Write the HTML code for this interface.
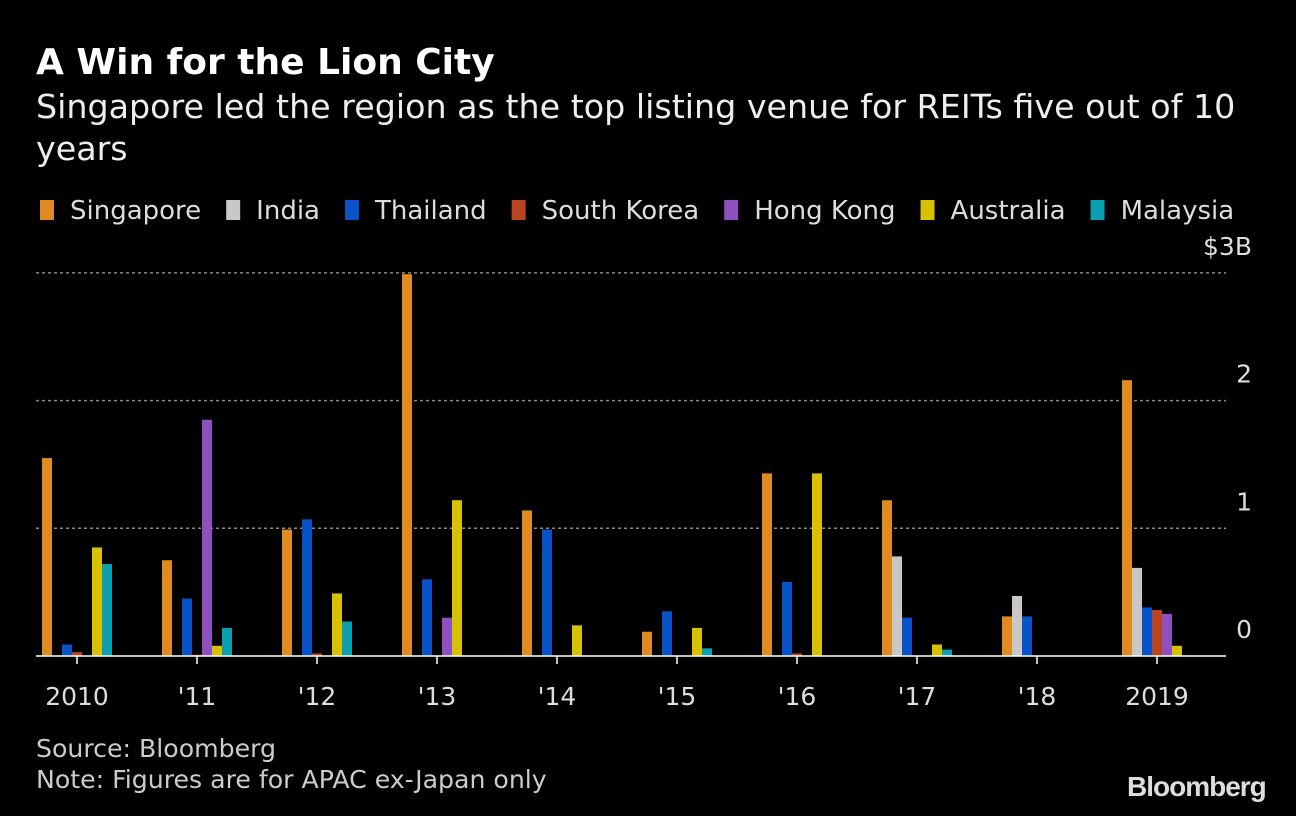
<!DOCTYPE html>
<html><head><meta charset="utf-8"><style>
body{margin:0;background:#000;width:1296px;height:816px;overflow:hidden;font-family:"DejaVu Sans","Liberation Sans",sans-serif;color:#fff}
#t{position:absolute;left:36px;top:42px;font-size:36px;font-weight:bold;line-height:42px}
#s{position:absolute;left:36px;top:86px;font-size:33.3px;line-height:42px;width:1230px;color:#eee}
#n{position:absolute;left:36px;top:733px;font-size:25.2px;line-height:31px;color:#ccc}
#b{position:absolute;left:1127px;top:771px;font-size:28px;font-weight:bold;color:#ddd;letter-spacing:-1px;font-family:"Liberation Sans",sans-serif}
svg{position:absolute;left:0;top:0}
</style></head><body>
<div id="t">A Win for the Lion City</div>
<div id="s">Singapore led the region as the top listing venue for REITs five out of 10 years</div>
<svg id="c" width="1296" height="816"></svg>
<div id="n">Source: Bloomberg<br>Note: Figures are for APAC ex-Japan only</div>
<div id="b">Bloomberg</div>
<script>
const years=["2010","'11","'12","'13","'14","'15","'16","'17","'18","2019"];
const seriesNames=["Singapore","India","Thailand","South Korea","Hong Kong","Australia","Malaysia"];
const colors=["#e08a22","#c8c8c8","#0a52c8","#b9441f","#8e4fbf","#d8c200","#0aa0b0"];
const singapore=[1.55,0.75,0.99,2.99,1.14,0.19,1.43,1.22,0.31,2.16];
const india=[0,0,0,0,0,0,0,0.78,0.47,0.69];
const thailand=[0.09,0.45,1.07,0.6,0.99,0.35,0.58,0.3,0.31,0.38];
const southKorea=[0.03,0.01,0.02,0,0,0,0.02,0,0,0.36];
const hongKong=[0,1.85,0,0.3,0,0,0,0,0,0.33];
const australia=[0.85,0.08,0.49,1.22,0.24,0.22,1.43,0.09,0,0.08];
const malaysia=[0.72,0.22,0.27,0,0,0.06,0,0.05,0,0];
const ticks=[0,1,2,3];
const tickLabels=["0","1","2","$3B"];
const series=[singapore,india,thailand,southKorea,hongKong,australia,malaysia];
const ns="http://www.w3.org/2000/svg",svg=document.getElementById('c');
const FF='DejaVu Sans, Liberation Sans, sans-serif';
const y=v=>656-v*127.7, gx=i=>42+i*120;
function mk(t,a,txt){const e=document.createElementNS(ns,t);for(const k in a)e.setAttribute(k,a[k]);if(txt!=null)e.textContent=txt;svg.appendChild(e);return e;}
ticks.forEach((t,i)=>{
 if(t>0){const l=mk('line',{x1:36,x2:1226,y1:y(t),y2:y(t),stroke:'#888','stroke-dasharray':'3,3','stroke-width':1.5});
 
 }
 const tx=mk('text',{x:1252,y:y(t)-18,'text-anchor':'end','font-size':25,fill:'#ddd','font-family':FF},tickLabels[i]);
 
 
});
let lx=40;
seriesNames.forEach((n,s)=>{
 const r=mk('rect',{x:lx,y:200,width:14,height:20,fill:colors[s]});
 
 
 const t=mk('text',{x:lx+30,y:219,'font-size':26,fill:'#ddd','font-family':FF},n);
 
 
 lx+=30+t.getComputedTextLength()+25;
});
years.forEach((yr,i)=>{
 series.forEach((arr,s)=>{
  const v=arr[i]; if(v<=0)return;
  const r=mk('rect',{x:gx(i)+s*10,y:y(v),width:10,height:656-y(v),fill:colors[s]});
  
  
 });
 const cx=gx(i)+35;
 const tk=mk('line',{x1:cx,x2:cx,y1:656,y2:664,stroke:'#fff','stroke-width':1.5});
 
 
 const t=mk('text',{x:cx,y:705,'text-anchor':'middle','font-size':25,fill:'#ddd','font-family':FF},yr);
 
 
});
const ax=mk('line',{x1:36,x2:1226,y1:656,y2:656,stroke:'#fff','stroke-width':1.5});


</script>
</body></html>
